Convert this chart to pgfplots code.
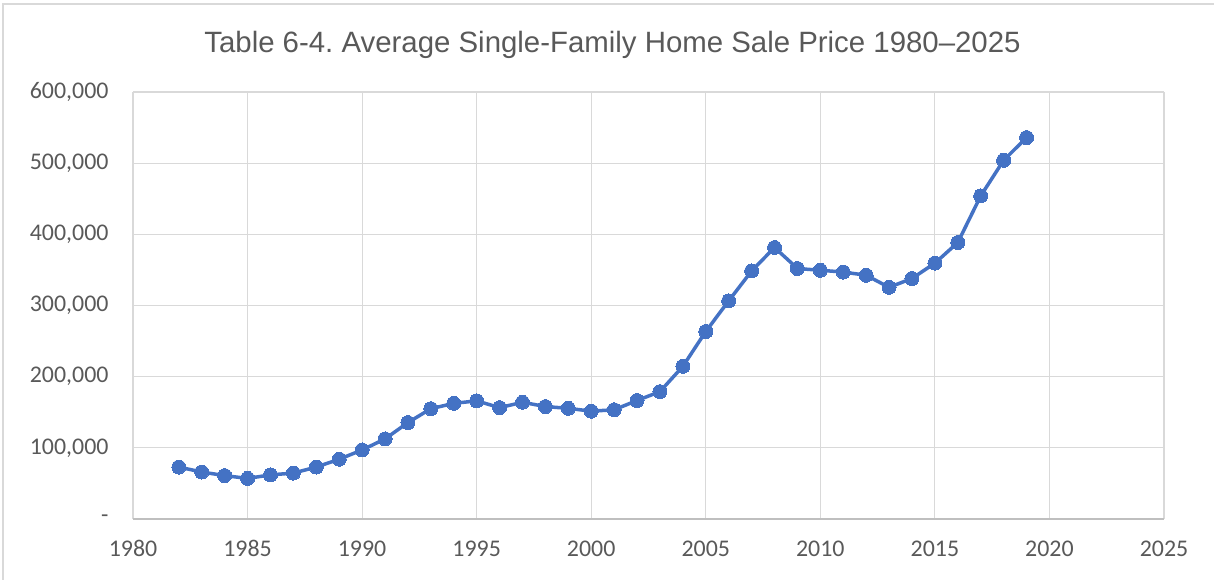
\documentclass[border=0pt]{standalone}
\usepackage{fontspec}
\setmainfont{Liberation Sans}
\newfontfamily\calib{Carlito}
\usepackage{pgfplots}
\pgfplotsset{compat=1.18}
\definecolor{blu}{HTML}{4472C4}
\definecolor{txt}{HTML}{595959}
\definecolor{grd}{HTML}{D9D9D9}
\definecolor{axl}{HTML}{BFBFBF}
\frenchspacing
\begin{document}
\begin{tikzpicture}
\path[use as bounding box] (0bp,0bp) rectangle (1214bp,580bp);
\draw[grd, line width=1.5bp] (3bp,0bp) -- (3bp,576bp) -- (1214bp,576bp);
\node[text=txt, font=\fontsize{29.5}{34}\selectfont] at (612.5bp,535bp) {Table 6-4. Average Single-Family Home Sale Price 1980–2025};
\begin{axis}[
  at={(133bp,61bp)}, anchor=south west,
  width=1031bp, height=427bp, scale only axis,
  xmin=1980, xmax=2025, ymin=0, ymax=600000,
  xtick={1980,1985,...,2025},
  ytick={0,100000,200000,300000,400000,500000,600000},
  yticklabels={{-\hspace{9bp}},{100,000},{200,000},{300,000},{400,000},{500,000},{600,000}},
  /pgf/number format/assume math mode=true,
  xticklabel style={/pgf/number format/1000 sep={}, yshift=-18bp},
  yticklabel style={xshift=-21bp},
  ticklabel style={font=\calib\fontsize{24}{28}\selectfont, text=txt},
  major tick length=0pt,
  grid=major,
  grid style={grd, line width=1.2bp},
  axis line style={draw=none},
  axis x line*=bottom,
  x axis line style={draw=axl, line width=1.5bp},
  scaled y ticks=false,
  clip=false,
]
\addplot[blu, line width=3.5bp, mark=*, mark size=7bp, mark options={fill=blu, draw=blu, line width=0pt}] coordinates {
(1982,73000) (1983,66000) (1984,61000) (1985,57000) (1986,62000) (1987,64500)
(1988,73000) (1989,84000) (1990,97000) (1991,112500) (1992,135500) (1993,155000)
(1994,162500) (1995,166000) (1996,156500) (1997,164000) (1998,158000) (1999,155500)
(2000,151500) (2001,153500) (2002,166500) (2003,179000) (2004,214500) (2005,263500)
(2006,306500) (2007,348500) (2008,381500) (2009,352000) (2010,349500) (2011,347000)
(2012,342500) (2013,325500) (2014,338000) (2015,359500) (2016,388500) (2017,454000)
(2018,504000) (2019,536000)
};
\end{axis}
\end{tikzpicture}
\end{document}
